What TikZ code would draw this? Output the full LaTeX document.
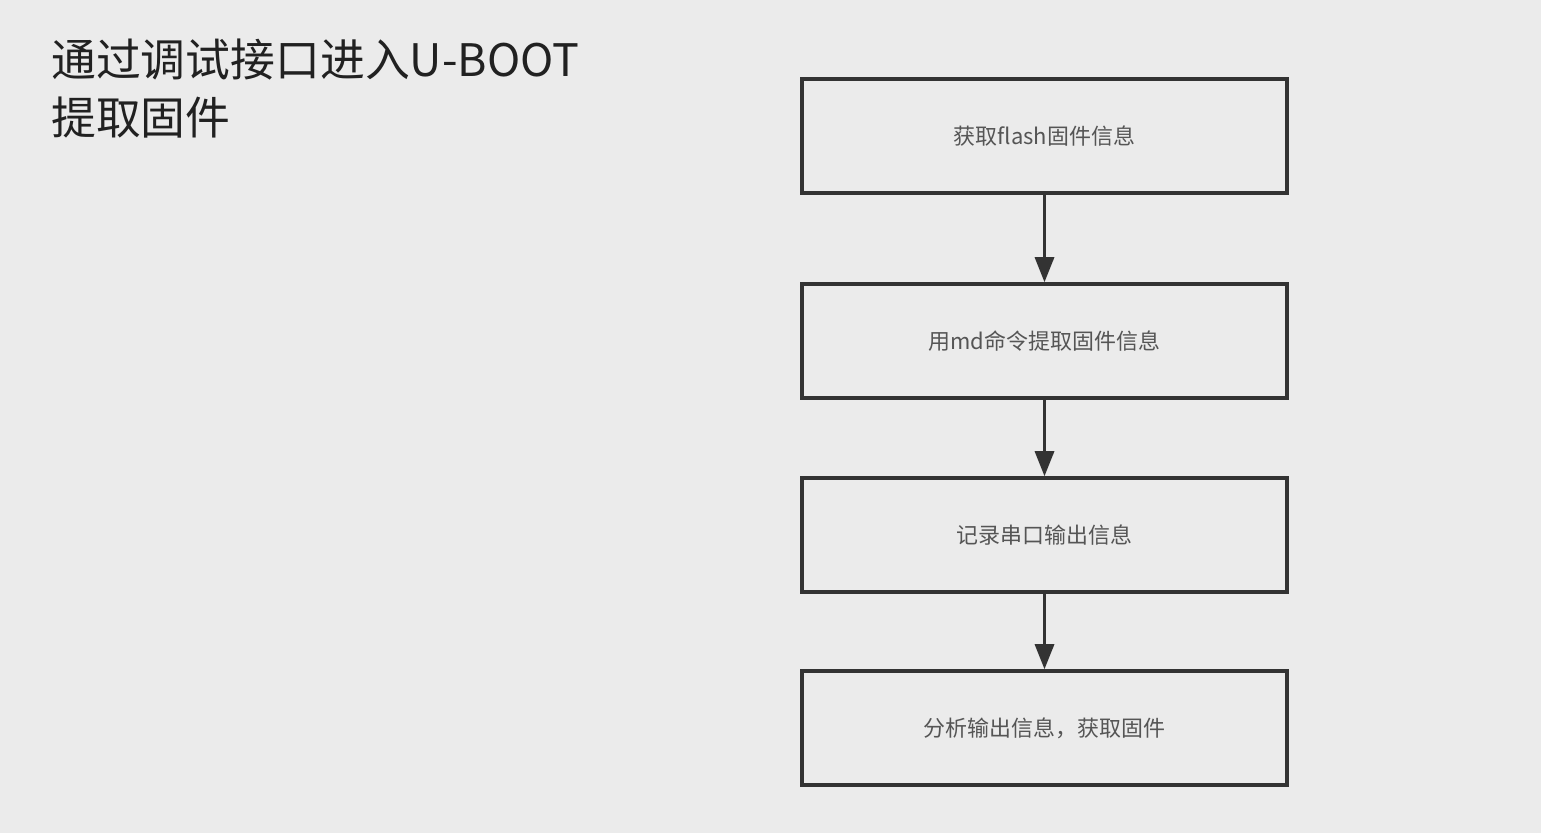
\documentclass[tikz,border=0pt]{standalone}
\usepackage{fontspec}
\usepackage{tikz}
\usetikzlibrary{arrows.meta}
\setmainfont{Noto Sans CJK SC}
\newfontfamily\cjk{Noto Sans CJK SC}
\definecolor{bgcol}{HTML}{EBEBEB}
\definecolor{boxcol}{HTML}{333333}
\definecolor{txtcol}{HTML}{555555}
\tikzset{>={Triangle[width=0.38cm,length=0.5cm]}}
\tikzset{stepbox/.style = {shape=rectangle,draw=boxcol,line width=2pt,minimum width=9.7cm,minimum height=2.28cm,text=txtcol,font=\cjk\fontsize{12.5}{14}\selectfont}}

\begin{document}
\begin{tikzpicture}
                \fill[bgcol] (0,0) rectangle (30.82,16.66);
                \useasboundingbox (0,0) rectangle (30.82,16.66);
                \node[anchor=north west,align=left,text=black!87,inner sep=0pt,font=\cjk\fontsize{25.5}{32.5}\selectfont] (T) at (1.02,15.88) {通过调试接口进入U-BOOT\\提取固件};
                \node[stepbox] (F) at (20.89,13.94) {获取flash固件信息};
                \node[stepbox] (M) at (20.89,9.84) {用md命令提取固件信息};
                \node[stepbox] (R) at (20.89,5.96) {记录串口输出信息};
                \node[stepbox] (A) at (20.89,2.10) {分析输出信息，获取固件};
                \draw[->,boxcol,line width=1.8pt] (F) -- (M);
                \draw[->,boxcol,line width=1.8pt] (M) -- (R);
                \draw[->,boxcol,line width=1.8pt] (R) -- (A);
            \end{tikzpicture}
\end{document}
